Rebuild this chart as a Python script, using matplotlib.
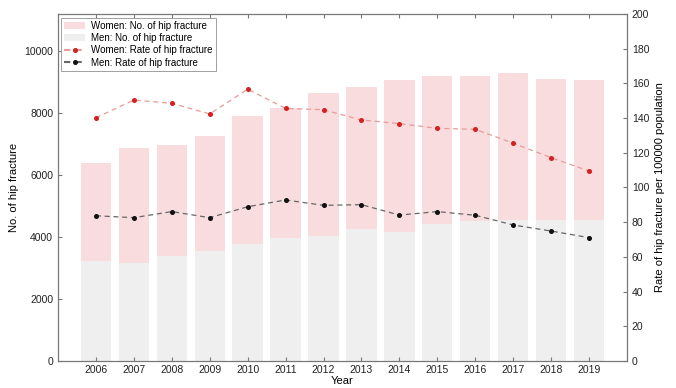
import matplotlib
matplotlib.use("Agg")
import matplotlib.pyplot as plt
from matplotlib.patches import Patch
from matplotlib.lines import Line2D

plt.rcParams['font.family'] = ['Liberation Sans', 'DejaVu Sans']

years = [2006, 2007, 2008, 2009, 2010, 2011, 2012, 2013, 2014, 2015, 2016, 2017, 2018, 2019]
men_count = [3230, 3170, 3380, 3530, 3760, 3970, 4030, 4240, 4170, 4410, 4520, 4540, 4540, 4540]
total_count = [6390, 6850, 6950, 7250, 7900, 8140, 8620, 8820, 9050, 9180, 9180, 9270, 9100, 9050]
women_count = [t - m for t, m in zip(total_count, men_count)]
women_rate = [140.2, 150.4, 148.5, 142.4, 156.6, 145.6, 144.8, 138.9, 136.8, 134.1, 133.5, 125.5, 117.2, 109.5]
men_rate = [83.7, 82.6, 86.1, 82.6, 88.9, 92.8, 89.7, 90.1, 84.1, 86.1, 84.0, 78.4, 74.9, 71.1]

pink = '#f8dcde'
grey = '#efefef'
wline = '#eb9a9a'
mline = '#666666'

fig = plt.figure(figsize=(6.76, 3.88), dpi=100)
ax = fig.add_axes([0.0858, 0.0696, 0.8417, 0.8944])
ax.bar(years, men_count, width=0.8, color=grey, zorder=1)
ax.bar(years, women_count, bottom=men_count, width=0.8, color=pink, zorder=1)
ax.set_xlim(2005, 2020)
ax.set_ylim(0, 11180)
ax.set_xticks(years)
ax.set_yticks([0, 2000, 4000, 6000, 8000, 10000])
ax.set_ylabel('No. of hip fracture', fontsize=8, labelpad=4)
ax.set_xlabel('Year', fontsize=8, labelpad=0.5)
ax.tick_params(direction='in', labelsize=7.5, length=3, colors='#777777', labelcolor='#222222')
ax.tick_params(axis='x', top=True, pad=3)
for s in ax.spines.values():
    s.set_color('#777777')
    s.set_linewidth(0.8)

ax2 = ax.twinx()
ax2.plot(years, women_rate, linestyle='--', dashes=(4, 3), color=wline, linewidth=0.9,
         marker='o', markersize=2.6, markerfacecolor='#d62020', markeredgecolor='#d62020', zorder=3)
ax2.plot(years, men_rate, linestyle='--', dashes=(4, 3), color=mline, linewidth=0.9,
         marker='o', markersize=2.6, markerfacecolor='#111111', markeredgecolor='#111111', zorder=3)
ax2.set_ylim(0, 200)
ax2.set_yticks(range(0, 201, 20))
ax2.set_ylabel('Rate of hip fracture per 100000 population', fontsize=8, labelpad=4)
ax2.tick_params(direction='in', labelsize=7.5, length=3, colors='#777777', labelcolor='#222222')
for s in ax2.spines.values():
    s.set_color('#777777')
    s.set_linewidth(0.8)

handles = [
    Patch(facecolor=pink, edgecolor='none', label='Women: No. of hip fracture'),
    Patch(facecolor=grey, edgecolor='none', label='Men: No. of hip fracture'),
    Line2D([], [], linestyle='--', dashes=(3, 2.5), color=wline, marker='o', markersize=2.6,
           markerfacecolor='#d62020', markeredgecolor='#d62020', label='Women: Rate of hip fracture'),
    Line2D([], [], linestyle='--', dashes=(3, 2.5), color=mline, marker='o', markersize=2.6,
           markerfacecolor='#111111', markeredgecolor='#111111', label='Men: Rate of hip fracture'),
]
leg = ax2.legend(handles=handles, loc='upper left', bbox_to_anchor=(0.002, 0.995), fontsize=7,
                 frameon=True, fancybox=False, edgecolor='#888888', borderpad=0.3,
                 labelspacing=0.25, handlelength=2.2, handletextpad=0.6, borderaxespad=0.2)
leg.get_frame().set_linewidth(0.7)

fig.savefig('out.png', dpi=100)
